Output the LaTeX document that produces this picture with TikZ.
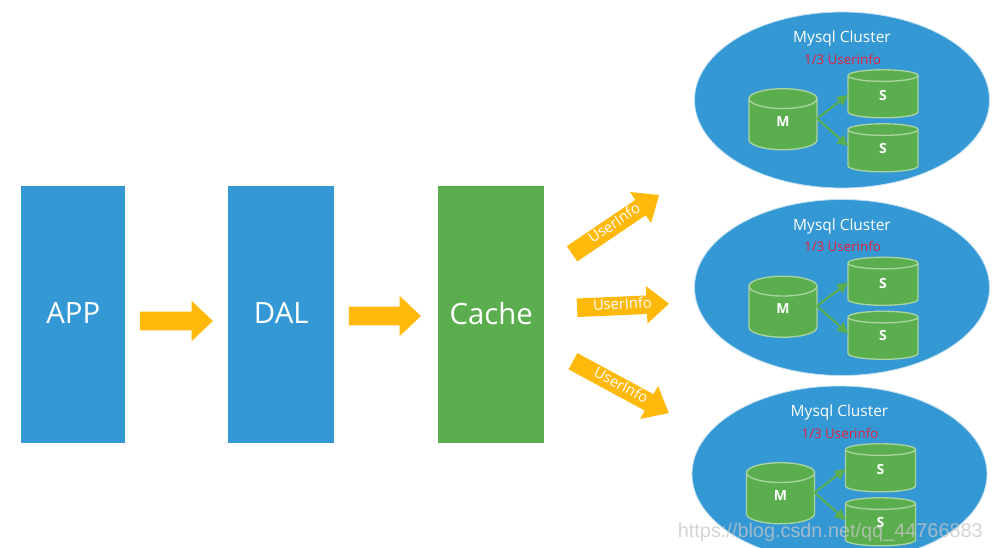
\documentclass[tikz,border=0pt]{standalone}
\usepackage{fontspec}
\setmainfont{Open Sans}
\newfontfamily\wmfont{Liberation Sans}
\usetikzlibrary{shapes.geometric,shapes.arrows,arrows.meta}
\definecolor{cblue}{HTML}{3498D5}
\definecolor{cgreen}{HTML}{5BAE4E}
\definecolor{corange}{HTML}{FFB90A}
\definecolor{cred}{HTML}{E8203A}
\definecolor{cedge}{HTML}{A9D3A0}
\newdimen\pxu
\pxu=0.75pt
\tikzset{
  block/.style={rectangle,anchor=north west,inner sep=0pt,text=white,font=\fontsize{22pt}{24pt}\selectfont},
  cluster/.style={ellipse,fill=cblue,draw=white!70!cblue,line width=0.6pt,inner sep=0pt},
  db/.style={cylinder,shape border rotate=90,aspect=1.5,draw=cedge,line width=1pt,fill=cgreen,cylinder uses custom fill,cylinder body fill=cgreen,cylinder end fill=cgreen,inner sep=0pt,text=white,font=\fontsize{10.5pt}{12pt}\selectfont\bfseries},
  dblink/.style={draw=cgreen,line width=1.5pt,-{Triangle[length=8pt,width=8pt]}},
  bigarrow/.style={single arrow,fill=corange,inner xsep=0pt,inner ysep=2.25pt,text height=7pt,text depth=2pt,single arrow head extend=9.5\pxu,single arrow tip angle=80,text=white,font=\fontsize{11pt}{12pt}\selectfont},
  plainarrow/.style={single arrow,fill=corange,inner xsep=0pt,inner ysep=6.75pt,text height=0pt,text depth=0pt,single arrow head extend=11\pxu,single arrow tip angle=87},
  title/.style={text=white,font=\fontsize{11.6pt}{13pt}\selectfont,inner sep=0pt},
  share/.style={text=cred,font=\fontsize{10pt}{12pt}\selectfont,inner sep=0pt},
}
\newcommand{\clusterat}[4]{%
  \begin{scope}[shift={(#2,#3)}]
    \node[cluster,minimum width=295\pxu,minimum height=#4\pxu] (e#1) at (842,100) {};
    \node[title] (t#1) at (842,38.5) {Mysql Cluster};
    \node[share] (r#1) at (842.5,59) {1/3 Userinfo};
    \node[db,minimum width=68\pxu,minimum height=61\pxu] (m#1) at (783,124.5) {\raisebox{5.25pt}{M}};
    \node[db,minimum width=70\pxu,minimum height=48\pxu] (a#1) at (883,97) {\raisebox{2.25pt}{S}};
    \node[db,minimum width=70\pxu,minimum height=48\pxu] (b#1) at (883,151) {\raisebox{4.5pt}{S}};
    \coordinate (o#1) at (817,118.5);
    \draw[dblink] (o#1) -- (848,95);
    \draw[dblink] (o#1) -- (848,146);
  \end{scope}}
\begin{document}
\begin{tikzpicture}[x=0.75pt,y=-0.75pt]
\useasboundingbox (0,0) rectangle (1003,547);
\fill[white] (0,0) rectangle (1003,547);
\node[block,fill=cblue,minimum width=104\pxu,minimum height=257\pxu] (app) at (21,186) {\raisebox{2.25pt}{APP}};
\node[block,fill=cblue,minimum width=106\pxu,minimum height=257\pxu] (dal) at (228,186) {\raisebox{2.25pt}{DAL}};
\node[block,fill=cgreen,minimum width=106\pxu,minimum height=257\pxu] (cache) at (438,186) {\raisebox{2.25pt}{Cache}};
\node[plainarrow,minimum height=73\pxu] (a1) at (171.5,321) {};
\node[plainarrow,minimum height=72\pxu] (a2) at (380,316) {};
\node[bigarrow,minimum height=105\pxu,rotate=34] (u1) at (611,227.5) {\hspace*{7.5pt}UserInfo};
\node[bigarrow,minimum height=92\pxu,rotate=2.5] (u2) at (617.5,306) {\hspace*{7.5pt}UserInfo};
\node[bigarrow,minimum height=109\pxu,rotate=-28.4] (u3) at (616,384.5) {\hspace*{7.5pt}UserInfo};
\clusterat{1}{0}{0}{176}
\clusterat{2}{0}{187.5}{176}
\clusterat{3}{-2.5}{374}{176}
\node[text=gray!45,opacity=0.75,font=\wmfont\fontsize{14.9pt}{16pt}\selectfont,inner sep=0pt,anchor=east] (wm) at (983,532) {https://blog.csdn.net/qq\_44766883};
\end{tikzpicture}
\end{document}
